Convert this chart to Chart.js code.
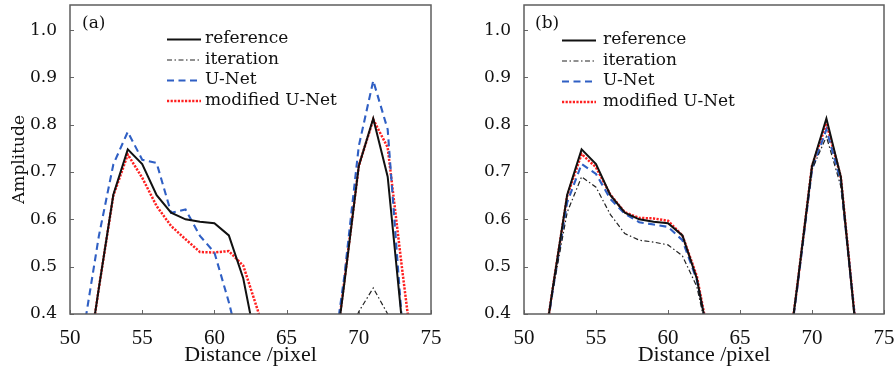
<!DOCTYPE html>
<html>
<head>
<meta charset="utf-8">
<script src="https://cdn.jsdelivr.net/npm/chart.js@4/dist/chart.umd.min.js"></script>
<style>
  html, body { margin: 0; padding: 0; background: #fff; }
  #wrap { width: 896px; height: 373px; display: flex; }
  canvas { display: block; }
</style>
</head>
<body>
<div id="wrap">
  <canvas id="ca" width="448" height="373"></canvas>
  <canvas id="cb" width="448" height="373"></canvas>
</div>
<script>
// ---- data (x = distance in pixels, y = amplitude) ----
const distance = [50,51,52,53,54,55,56,57,58,59,60,61,62,63,64,65,66,67,68,69,70,71,72,73,74,75];
const xTickLabels = [50,55,60,65,70,75];
const yTickLabels = [0.4,0.5,0.6,0.7,0.8,0.9,1.0];
const seriesNames = ['reference','iteration','U-Net','modified U-Net'];

// reference (ground truth, same in both panels)
const referenceAmp = [0.10,0.25,0.455,0.652,0.748,0.717,0.651,0.614,0.600,0.595,0.592,0.566,0.475,0.32,0.15,0.08,0.08,0.10,0.23,0.465,0.713,0.813,0.690,0.38,0.15,0.08];
// panel (a)
const iterationA = [0.05,0.08,0.12,0.20,0.28,0.30,0.28,0.25,0.24,0.23,0.22,0.20,0.15,0.10,0.06,0.05,0.05,0.08,0.15,0.33,0.405,0.455,0.400,0.30,0.10,0.05];
const unetA      = [0.20,0.375,0.565,0.716,0.785,0.726,0.719,0.614,0.621,0.565,0.530,0.425,0.30,0.20,0.10,0.08,0.08,0.10,0.26,0.48,0.755,0.893,0.790,0.38,0.15,0.08];
const modUnetA   = [0.10,0.25,0.455,0.650,0.737,0.688,0.628,0.586,0.558,0.531,0.530,0.533,0.502,0.408,0.30,0.15,0.10,0.12,0.23,0.47,0.713,0.811,0.752,0.495,0.25,0.10];
// panel (b)
const iterationB = [0.10,0.25,0.45,0.615,0.690,0.668,0.610,0.570,0.556,0.552,0.546,0.523,0.458,0.32,0.15,0.08,0.08,0.10,0.23,0.46,0.705,0.775,0.670,0.39,0.15,0.08];
const unetB      = [0.10,0.25,0.45,0.636,0.717,0.696,0.643,0.612,0.594,0.589,0.584,0.556,0.472,0.32,0.15,0.08,0.08,0.10,0.23,0.46,0.705,0.790,0.680,0.385,0.15,0.08];
const modUnetB   = [0.10,0.25,0.455,0.650,0.738,0.710,0.652,0.615,0.603,0.602,0.597,0.566,0.480,0.325,0.15,0.08,0.08,0.10,0.23,0.465,0.713,0.803,0.690,0.385,0.15,0.08];

// ---- styles ----
const styles = [
  { borderColor: '#111111', borderWidth: 2.0, borderDash: [] },
  { borderColor: '#222222', borderWidth: 1.2, borderDash: [5, 2.5, 1.5, 2.5] },
  { borderColor: '#2f5fc4', borderWidth: 2.1, borderDash: [7, 4.5] },
  { borderColor: '#ff1f1f', borderWidth: 2.5, borderDash: [2.2, 1.4] }
];

function pts(arr) { return distance.map((x, i) => ({ x: x, y: arr[i] })); }

function makeDatasets(seriesArrays) {
  return seriesArrays.map((arr, i) => Object.assign({
    label: seriesNames[i],
    data: pts(arr),
    fill: false,
    tension: 0,
    pointRadius: 0,
    pointHoverRadius: 0,
    borderCapStyle: 'butt',
    borderJoinStyle: 'miter'
  }, styles[i]));
}

const serif = 'DejaVu Serif';
const condensed = 'Liberation Serif';

const framePlugin = {
  id: 'frame',
  afterDraw(chart, args, o) {
    const { ctx, chartArea: a, scales } = chart;
    ctx.save();
    // tick marks (inward)
    ctx.strokeStyle = '#666';
    ctx.lineWidth = 1;
    ctx.beginPath();
    scales.x.ticks.forEach((t, i) => {
      const px = Math.round(scales.x.getPixelForTick(i)) + 0.5;
      ctx.moveTo(px, a.bottom); ctx.lineTo(px, a.bottom - 4);
    });
    scales.y.ticks.forEach((t, i) => {
      const py = Math.round(scales.y.getPixelForTick(i)) + 0.5;
      ctx.moveTo(a.left, py); ctx.lineTo(a.left + 4, py);
    });
    ctx.stroke();
    // frame
    ctx.strokeStyle = '#5e5e5e';
    ctx.lineWidth = 1.5;
    ctx.strokeRect(a.left, a.top, a.right - a.left, a.bottom - a.top);
    // panel tag
    ctx.fillStyle = '#111';
    ctx.font = '17px "' + serif + '"';
    ctx.textBaseline = 'middle';
    ctx.textAlign = 'left';
    ctx.fillText(o.tag, a.left + o.tagDx, o.tagY);
    // legend
    const lx = a.left + o.legDx;
    chart.data.datasets.forEach((ds, i) => {
      const y = o.legY + i * o.legStep;
      ctx.save();
      ctx.strokeStyle = ds.borderColor;
      ctx.lineWidth = ds.borderWidth;
      ctx.setLineDash(ds.borderDash || []);
      ctx.beginPath();
      ctx.moveTo(lx, y + 0.5); ctx.lineTo(lx + o.legLen, y + 0.5);
      ctx.stroke();
      ctx.restore();
      ctx.fillStyle = '#111';
      ctx.fillText(ds.label, lx + o.legLen + o.legGap, y);
    });
    ctx.restore();
  }
};

function makeChart(id, seriesArrays, opts) {
  return new Chart(document.getElementById(id), {
    type: 'line',
    data: { datasets: makeDatasets(seriesArrays) },
    plugins: [framePlugin],
    options: {
      responsive: false,
      animation: false,
      devicePixelRatio: 1,
      layout: { padding: { top: 5, right: opts.padRight, left: 0, bottom: 0 } },
      plugins: {
        legend: { display: false },
        tooltip: { enabled: false },
        frame: opts.frame
      },
      scales: {
        x: {
          type: 'linear',
          min: 50, max: 75,
          grid: { display: false },
          border: { display: false },
          afterBuildTicks: (s) => { s.ticks = xTickLabels.map(v => ({ value: v })); },
          ticks: {
            color: '#111',
            padding: 4,
            maxRotation: 0,
            font: { family: condensed, size: 21 },
            callback: (v) => String(v)
          },
          title: {
            display: true,
            text: 'Distance /pixel',
            color: '#111',
            font: { family: condensed, size: 22 },
            padding: { top: 0, bottom: 5 }
          },
          afterFit: (s) => { s.height = 59; s.paddingLeft = 0; s.paddingRight = 0; }
        },
        y: {
          type: 'linear',
          min: 0.4, max: 1.053,
          grid: { display: false },
          border: { display: false },
          afterBuildTicks: (s) => { s.ticks = yTickLabels.map(v => ({ value: v })); },
          ticks: {
            color: '#111',
            padding: 5,
            font: { family: serif, size: 17 },
            callback: (v) => Number(v).toFixed(1)
          },
          title: {
            display: opts.yTitle,
            text: 'Amplitude',
            color: '#111',
            font: { family: serif, size: 17 },
            padding: { top: 9, bottom: 0 }
          },
          afterFit: (s) => { s.width = opts.yWidth; s.paddingTop = 0; s.paddingBottom = 0; }
        }
      }
    }
  });
}

makeChart('ca', [referenceAmp, iterationA, unetA, modUnetA], {
  padRight: 17, yWidth: 70, yTitle: true,
  frame: { tag: '(a)', tagDx: 12, tagY: 24, legDx: 97, legY: 39, legStep: 20.5, legLen: 34, legGap: 4 }
});
makeChart('cb', [referenceAmp, iterationB, unetB, modUnetB], {
  padRight: 12, yWidth: 76, yTitle: false,
  frame: { tag: '(b)', tagDx: 11, tagY: 24, legDx: 38, legY: 40, legStep: 20.5, legLen: 34, legGap: 7 }
});
</script>
</body>
</html>
